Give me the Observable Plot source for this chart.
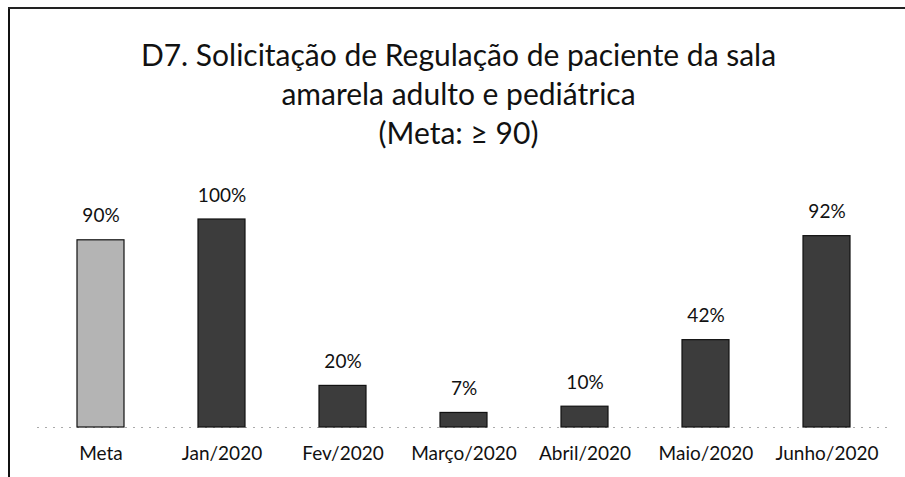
<!DOCTYPE html>
<html><head><meta charset="utf-8">
<script src="https://cdn.jsdelivr.net/npm/d3@7"></script>
<script src="https://cdn.jsdelivr.net/npm/@observablehq/plot@0.6"></script>
<style>
body{margin:0;background:#fff;}
#wrap{position:relative;width:905px;height:477px;overflow:hidden;font-family:Lato,"DejaVu Sans",sans-serif;background:#fff;}
#frameL{position:absolute;left:8px;top:7px;width:2px;height:470px;background:#111;}
#frameT{position:absolute;left:8px;top:7px;width:897px;height:2px;background:#222;}
#title{position:absolute;left:6px;width:905px;top:35px;text-align:center;font-size:30px;line-height:39px;color:#111;}
#chart{position:absolute;left:0;top:160px;}
</style></head><body>
<div id="wrap"><div id="frameL"></div><div id="frameT"></div>
<div id="title">D7. Solicitação de Regulação de paciente da sala<br>amarela adulto e pediátrica<br>(Meta: ≥ 90)</div>
<div id="chart"></div></div>
<script>
const categories = ["Meta","Jan/2020","Fev/2020","Março/2020","Abril/2020","Maio/2020","Junho/2020"];
const values = [90,100,20,7,10,42,92];
const barColors = ["#b4b4b4","#3c3c3c","#3c3c3c","#3c3c3c","#3c3c3c","#3c3c3c","#3c3c3c"];
const data = categories.map((c,i)=>({cat:c, value:values[i], color:barColors[i]}));

const chart = Plot.plot({
  width: 905, height: 317,
  marginTop: 59, marginBottom: 50, marginLeft: 37, marginRight: 16,
  style: {fontFamily: "Lato, 'DejaVu Sans', sans-serif", background: "transparent", color: "#111"},
  x: {domain: categories, paddingInner: 0.615, paddingOuter: 0.3075, label: null},
  y: {domain: [0,100], axis: null},
  color: {type: "identity"},
  marks: [
    Plot.ruleY([0], {stroke: "#aaa", strokeDasharray: "2,6"}),
    Plot.barY(data, {x: "cat", y: "value", fill: "color", stroke: "#111", strokeWidth: 1.2}),
    Plot.text(data, {x: "cat", y: "value", text: d => d.value + "%", dy: -24, fontSize: 19, fill: "#111"}),
    Plot.axisX({tickSize: 0, tickPadding: 19, fontSize: 19, label: null})
  ]
});
document.getElementById("chart").appendChild(chart);
</script>
</body></html>
